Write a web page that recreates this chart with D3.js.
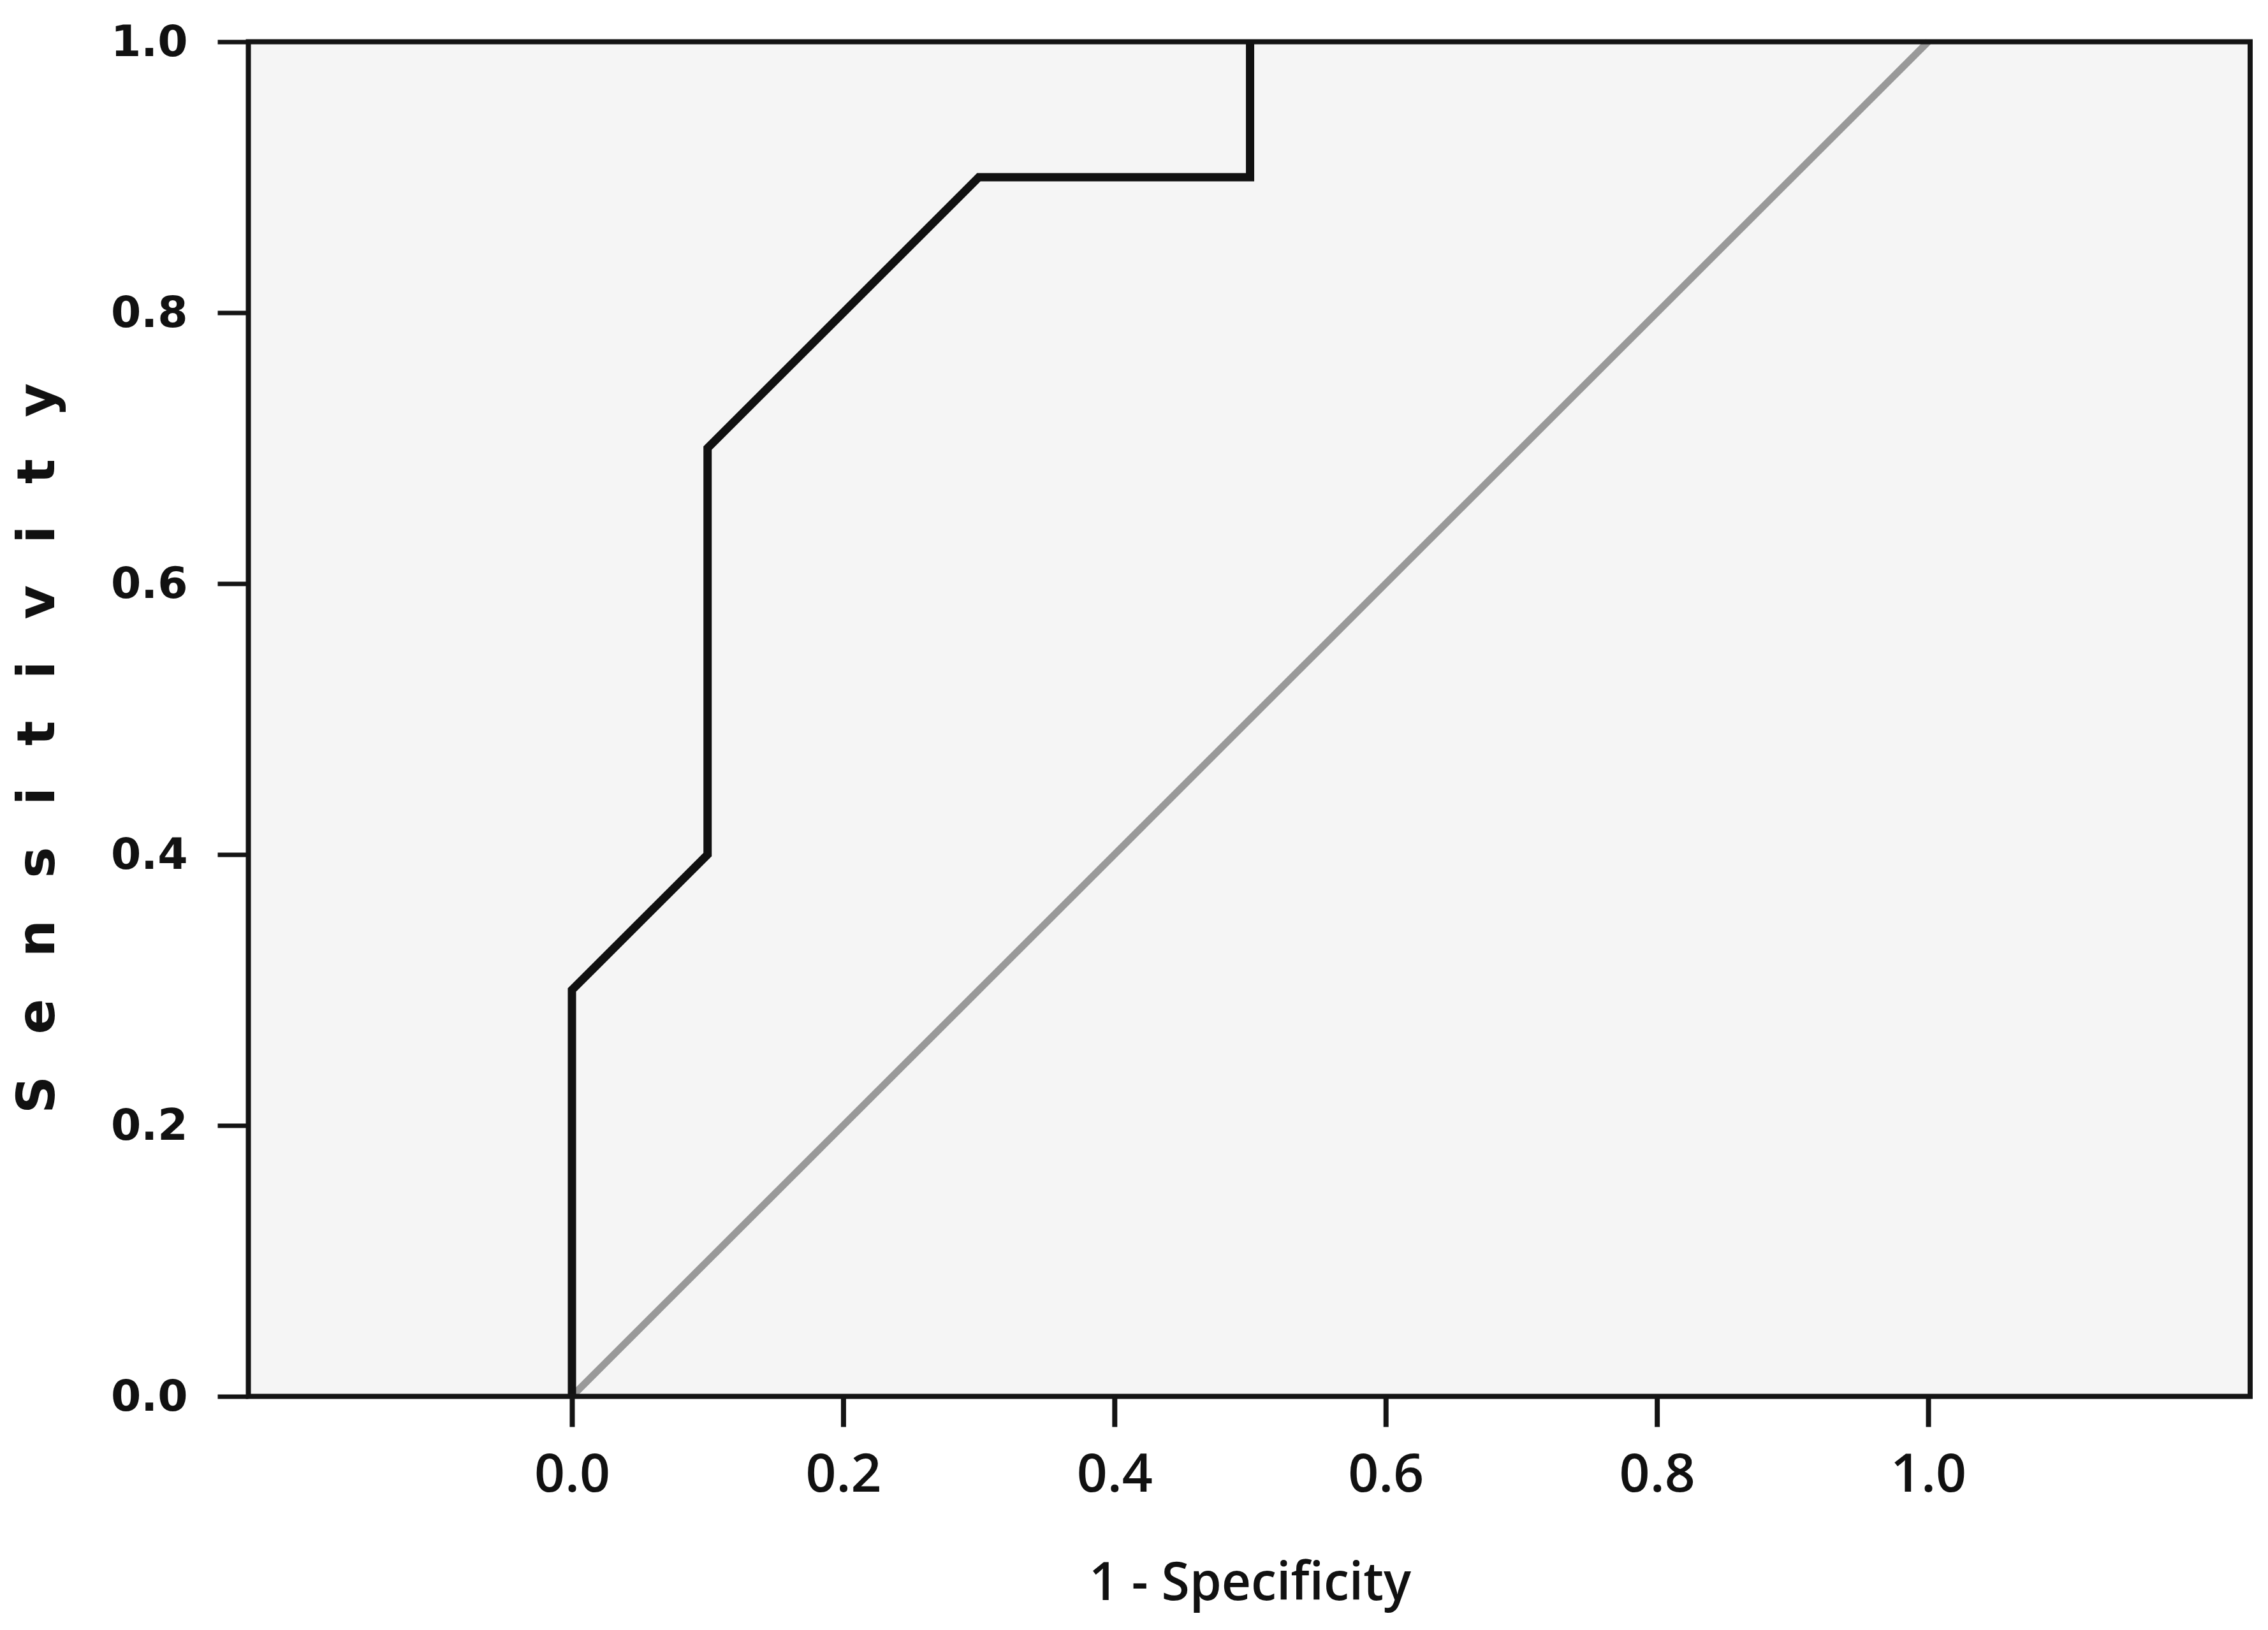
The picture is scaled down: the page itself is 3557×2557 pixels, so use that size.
<!DOCTYPE html>
<html>
<head>
<meta charset="utf-8">
<script src="https://cdn.jsdelivr.net/npm/d3@7"></script>
<style>
  html, body { margin: 0; padding: 0; background: #ffffff; }
  svg { display: block; }
</style>
</head>
<body>
<svg id="chart" width="3557" height="2557"></svg>
<script>
// ---- data ----
const rocFPR = [0.0, 0.0, 0.1, 0.1, 0.3, 0.5, 0.5];
const rocTPR = [0.0, 0.3, 0.4, 0.7, 0.9, 0.9, 1.0];
const refFPR = [0.0, 1.0];
const refTPR = [0.0, 1.0];
const xTickValues = [0.0, 0.2, 0.4, 0.6, 0.8, 1.0];
const yTickValues = [0.0, 0.2, 0.4, 0.6, 0.8, 1.0];
const xTitle = "1 - Specificity";
const yTitle = "Sensitivity";

// ---- layout ----
const plotLeft = 389.5, plotRight = 3529, plotTop = 65.5, plotBottom = 2190.5;
const svg = d3.select("#chart");

const x = d3.scaleLinear().domain([-0.2386, 1.2374]).range([plotLeft, plotRight]);
const y = d3.scaleLinear().domain([0, 1]).range([plotBottom, plotTop]);

// plot background
svg.append("rect")
  .attr("x", plotLeft).attr("y", plotTop)
  .attr("width", plotRight - plotLeft).attr("height", plotBottom - plotTop)
  .attr("fill", "#f5f5f5");

// reference diagonal
const line = d3.line().x(d => x(d[0])).y(d => y(d[1]));
svg.append("path")
  .datum(refFPR.map((v, i) => [v, refTPR[i]]))
  .attr("d", line)
  .attr("fill", "none")
  .attr("stroke", "#999999")
  .attr("stroke-width", 11);

// ROC curve
svg.append("path")
  .datum(rocFPR.map((v, i) => [v, rocTPR[i]]))
  .attr("d", line)
  .attr("fill", "none")
  .attr("stroke", "#111111")
  .attr("stroke-width", 13)
  .attr("stroke-linejoin", "miter");

// frame
svg.append("rect")
  .attr("x", plotLeft).attr("y", plotTop)
  .attr("width", plotRight - plotLeft).attr("height", plotBottom - plotTop)
  .attr("fill", "none")
  .attr("stroke", "#141414")
  .attr("stroke-width", 8);

// x axis
const xAxis = svg.append("g")
  .attr("transform", `translate(0,${plotBottom})`)
  .call(d3.axisBottom(x).tickValues(xTickValues).tickSize(48).tickPadding(42).tickFormat(d3.format(".1f")));
xAxis.select(".domain").remove();
xAxis.selectAll(".tick line").attr("stroke", "#141414").attr("stroke-width", 8);
xAxis.selectAll(".tick text")
  .attr("fill", "#111111")
  .style("font-family", "'Open Sans', sans-serif")
  .style("font-weight", 600)
  .style("font-size", "84px");

// y axis
const yAxis = svg.append("g")
  .attr("transform", `translate(${plotLeft},0)`)
  .call(d3.axisLeft(y).tickValues(yTickValues).tickSize(48).tickPadding(47).tickFormat(d3.format(".1f")));
yAxis.select(".domain").remove();
yAxis.selectAll(".tick line").attr("stroke", "#141414").attr("stroke-width", 7);
yAxis.selectAll(".tick text")
  .attr("fill", "#111111")
  .style("font-family", "'DejaVu Sans', sans-serif")
  .style("font-weight", 700)
  .style("font-size", "68px");

// x title
svg.append("text")
  .attr("x", (x(0) + x(1)) / 2)
  .attr("y", 2510)
  .attr("text-anchor", "middle")
  .attr("textLength", 505)
  .attr("lengthAdjust", "spacingAndGlyphs")
  .attr("fill", "#111111")
  .style("font-family", "'Open Sans', sans-serif")
  .style("font-weight", 600)
  .style("font-size", "84px")
  .text(xTitle);

// y title (widely spaced)
svg.append("text")
  .attr("transform", `translate(85,1174) rotate(-90)`)
  .attr("text-anchor", "middle")
  .attr("textLength", 1146)
  .attr("lengthAdjust", "spacing")
  .attr("fill", "#111111")
  .style("font-family", "'DejaVu Sans', sans-serif")
  .style("font-weight", 700)
  .style("font-size", "82px")
  .text(yTitle);
</script>
</body>
</html>
